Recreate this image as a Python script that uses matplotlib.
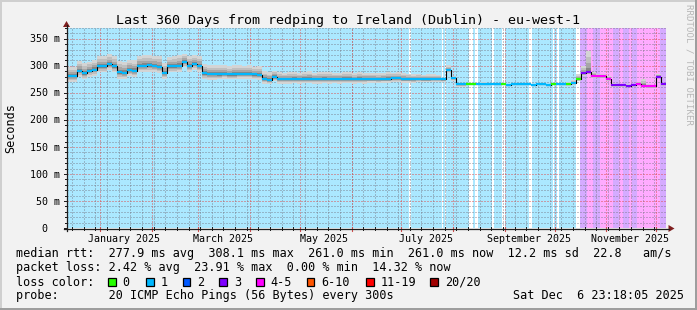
import matplotlib
matplotlib.use("Agg")
import matplotlib.pyplot as plt
from matplotlib.patches import Rectangle, Polygon
from matplotlib.lines import Line2D
from datetime import datetime, timedelta
import numpy as np

W, H, DPI = 697, 310, 100
MONO = "DejaVu Sans Mono"

# ---------------- data ----------------
START = datetime(2024, 12, 11, 23, 18, 5)
SPAN_DAYS = 360
BIN_DAYS = 3
Y_MAX = 370

TITLE = "Last 360 Days from redping to Ireland (Dublin) - eu-west-1"

# median rtt per 3-day bin (ms)
median_ms = [
    281, 281, 291, 286, 291, 293, 299, 299, 303, 299,
    288, 287, 293, 291, 300, 300, 301, 300, 298, 287,
    299, 299, 300, 308, 300, 304, 300, 286, 285, 285,
    284, 285, 284, 284, 285, 285, 285, 284, 283, 276,
    274, 280, 275, 275, 275, 276, 275, 276, 276, 275,
    275, 276, 275, 276, 275, 276, 276, 275, 276, 275,
    276, 276, 275, 276, 276, 277, 277, 276, 276, 275,
    276, 275, 275, 276, 276, 275, 292, 277, 266, 266,
    267, 266, 266, 267, 266, 267, 266, 266, 265, 266,
    267, 266, 266, 265, 267, 266, 265, 266, 266, 266,
    267, 269, 276, 286, 288, 282, 281, 281, 276, 265,
    264, 264, 263, 264, 267, 263, 262, 262, 280, 266,
]

# loss colour class per bin (index into loss_colors)
loss_cat = [
    1, 1, 1, 1, 1, 1, 1, 1, 1, 1,
    1, 1, 1, 1, 1, 1, 1, 1, 1, 1,
    1, 1, 1, 1, 1, 1, 1, 1, 1, 1,
    1, 1, 1, 1, 1, 1, 1, 1, 1, 1,
    1, 1, 1, 1, 1, 1, 1, 1, 1, 1,
    1, 1, 1, 1, 1, 1, 1, 1, 1, 1,
    1, 1, 1, 1, 1, 1, 1, 1, 1, 1,
    1, 1, 1, 1, 1, 1, 1, 1, 1, 1,
    0, 0, 1, 1, 1, 1, 1, 0, 1, 1,
    1, 1, 1, 1, 1, 1, 1, 0, 1, 1,
    0, 1, 0, 3, 3, 4, 4, 4, 4, 3,
    3, 3, 3, 3, 4, 4, 4, 4, 3, 3,
]

# smoke extent above the median per bin (ms)
smoke_up_ms = [
    16, 17, 18, 19, 17, 18, 19, 20, 18, 19,
    21, 20, 17, 19, 18, 20, 19, 18, 20, 19,
    18, 19, 20, 14, 18, 16, 19, 18, 17, 16,
    17, 16, 15, 17, 16, 15, 17, 14, 16, 14,
    14, 11, 13, 12, 14, 13, 12, 13, 14, 12,
    13, 12, 13, 11, 12, 13, 12, 11, 13, 12,
    11, 10, 11, 10, 12, 10, 11, 10, 9, 9,
    9, 8, 9, 8, 7, 3, 9, 4, 2, 2,
    2, 2, 2, 3, 2, 2, 2, 2, 2, 2,
    2, 2, 3, 2, 2, 2, 2, 2, 2, 2,
    3, 4, 8, 14, 40, 6, 4, 4, 6, 3,
    3, 3, 3, 3, 4, 12, 4, 3, 5, 3,
]
# smoke extent below the median per 30-day chunk (ms)
smoke_down_ms = [11, 12, 11, 9, 8, 8, 7, 5, 1, 1, 4, 3]

# loss background segments: end day and kind (contiguous from day 0)
bg_end_day = [205.5, 206.7, 225.4, 226.0, 227.2, 227.8, 241.6, 244.0, 245.2, 247.0,
              255.4, 256.6, 261.4, 263.2, 277.6, 279.5, 292.1, 292.7, 294.5, 295.7,
              305.9, 308.3, 312.5, 316.1, 320.3, 328.1, 332.0, 334.0, 338.0, 339.5,
              342.5, 356.4, 360.0]
bg_kind = ["blue", "none", "blue", "none", "blue", "none", "blue", "none", "blue", "none",
           "blue", "none", "blue", "none", "blue", "none", "blue", "none", "blue", "none",
           "blue", "none", "lav", "pink", "lav", "pink", "lav", "pink", "lav", "pink",
           "lav", "pink", "lav"]

loss_labels = ["0", "1", "2", "3", "4-5", "6-10", "11-19", "20/20"]
loss_colors = ["#26ff00", "#00b8ff", "#0059ff", "#7e00ff", "#ff00ff", "#ff5500", "#ff0000", "#a10000"]
bg_colors = {"blue": "#abe8ff", "pink": "#ffabff", "lav": "#d5abff", "none": "#ffffff"}

month_label_months = [1, 3, 5, 7, 9, 11]
y_label_values = [0, 50, 100, 150, 200, 250, 300, 350]

legend_rows = [
    [(16, "median rtt:  277.9 ms avg  308.1 ms max  261.0 ms min  261.0 ms now  12.2 ms sd  22.8   am/s")],
    [(16, "packet loss: 2.42 % avg  23.91 % max  0.00 % min  14.32 % now")],
    [(16, "loss color:")],
    [(16, "probe:       20 ICMP Echo Pings (56 Bytes) every 300s"),
     (513.3, "Sat Dec  6 23:18:05 2025")],
]
legend_baselines = [257.5, 271.3, 285.5, 299.3]
loss_box_x = [108, 146, 182.7, 219.3, 256, 306.7, 366, 430]

# ---------------- geometry ----------------
PL, PR, PT, PB = 67, 666, 28, 228


def fx(x):
    return x / W


def fy(y):
    return 1 - y / H


def px_x(d):
    return PL + d * (PR - PL) / SPAN_DAYS


def px_y(v):
    return PB - v * (PB - PT) / Y_MAX


def day_of(dt):
    return (dt - START).total_seconds() / 86400.0


fig = plt.figure(figsize=(W / DPI, H / DPI), dpi=DPI)
fig.patch.set_facecolor("#f2f2f2")


def fline(x0, y0, x1, y1, **kw):
    fig.add_artist(Line2D([fx(x0), fx(x1)], [fy(y0), fy(y1)], transform=fig.transFigure, **kw))


ax = fig.add_axes([fx(PL), fy(PB), (PR - PL) / W, (PB - PT) / H])
ax.set_xlim(0, SPAN_DAYS)
ax.set_ylim(0, Y_MAX)
ax.set_axis_off()

# loss background
s = 0.0
for e, k in zip(bg_end_day, bg_kind):
    ax.axvspan(s, e, color=bg_colors[k], lw=0, zorder=0.5)
    s = e

# grid
GRID = (0.45, 0.45, 0.5, 0.42)
MGRID = (0.87, 0.31, 0.31, 0.5)
dash = (0, (1, 1))
gkw = dict(lw=1.0, ls=dash, antialiased=False, snap=True)
for v in range(10, Y_MAX + 1, 10):
    ax.axhline(v, color=MGRID if v % 50 == 0 else GRID, zorder=1, **gkw)

month_days = []
m = datetime(2025, 1, 1)
while day_of(m) < SPAN_DAYS:
    month_days.append(day_of(m))
    m = datetime(m.year + (m.month // 12), m.month % 12 + 1, 1)
week_days = []
w = datetime(2024, 12, 15)
while day_of(w) < SPAN_DAYS:
    if day_of(w) > 0:
        week_days.append(day_of(w))
    w += timedelta(days=7)
for d in week_days:
    ax.axvline(d, color=GRID, zorder=1, **gkw)
for d in month_days:
    ax.axvline(d, color=MGRID, zorder=1.1, **gkw)

# smoke
med = np.array(median_ms, float)
up = np.array(smoke_up_ms, float)
dn = np.array([smoke_down_ms[i // 10] for i in range(len(med))], float)
edges = np.arange(0, len(med) + 1) * BIN_DAYS
layers = [(1.0, "#d4d4d4"), (0.7, "#bfbfbf"), (0.45, "#a6a6a6"), (0.22, "#868686")]
for f, c in layers:
    lo = med - dn * f
    hi = med + up * f
    ax.fill_between(edges, np.append(lo, lo[-1]), np.append(hi, hi[-1]),
                    step="post", color=c, lw=0, zorder=2)

# median line
ax.step(edges, np.append(med, med[-1]), where="post", color="black", lw=0.8, zorder=3)
ax.hlines(med, edges[:-1], edges[1:], colors=[loss_colors[c] for c in loss_cat],
          lw=1.6, zorder=4)

# axes, ticks, arrows
AXIS = "#1f1f1f"
ARROW = "#801f1f"
for v in range(0, Y_MAX + 1, 10):
    y = px_y(v)
    fline(64 if v % 50 == 0 else 65, y, 67, y, color=AXIS, lw=0.72)
for d in week_days:
    x = px_x(d)
    fline(x, 227, x, 230, color=AXIS, lw=0.72)
for d in month_days:
    x = px_x(d)
    fline(x, 227, x, 231, color="#d05050", lw=0.8)
fline(64, 228.5, 669, 228.5, color=AXIS, lw=0.9)
fline(66.5, 231, 66.5, 25, color=AXIS, lw=0.9)
fig.add_artist(Polygon([[fx(668.5), fy(225)], [fx(674.5), fy(228.5)], [fx(668.5), fy(232)]],
                       closed=True, transform=fig.transFigure, color=ARROW, lw=0))
fig.add_artist(Polygon([[fx(63), fy(27)], [fx(66.5), fy(21)], [fx(70), fy(27)]],
                       closed=True, transform=fig.transFigure, color=ARROW, lw=0))

# tick labels
for v in y_label_values:
    yb = px_y(v) + 3.6
    if v:
        fig.text(fx(60), fy(yb), f"{v} m", ha="right", va="baseline", fontsize=7.2, family=MONO)
    else:
        fig.text(fx(47.5), fy(yb), "0", ha="right", va="baseline", fontsize=7.2, family=MONO)
for mo in month_label_months:
    dt = datetime(2025, mo, 15, 12)
    fig.text(fx(px_x(day_of(dt))), fy(241.5), dt.strftime("%B %Y"), ha="center",
             va="baseline", fontsize=7.2, family=MONO)

# title, y label, watermark
fig.text(fx(348.4), fy(24), TITLE, ha="center", va="baseline", fontsize=9.6, family=MONO)
fig.text(fx(10.5), fy(128), "Seconds", rotation=90, ha="center", va="center",
         fontsize=8.5, family=MONO)
fig.text(fx(688.5), fy(4), "RRDTOOL / TOBI OETIKER", rotation=270, ha="center", va="top",
         fontsize=6.6, family=MONO, color="#b8b8b8")

# legend
for row, yb in zip(legend_rows, legend_baselines):
    for x, t in row:
        fig.text(fx(x), fy(yb), t, ha="left", va="baseline", fontsize=8.5, family=MONO)
for bx, lab, col in zip(loss_box_x, loss_labels, loss_colors):
    fig.add_artist(Rectangle((fx(bx), fy(285.5)), 7.5 / W, 7.5 / H, transform=fig.transFigure,
                             facecolor=col, edgecolor="black", lw=0.9))
    fig.text(fx(bx + 14.7), fy(285.5), lab, ha="left", va="baseline", fontsize=8.5, family=MONO)

# frame
fline(0, 0.8, W, 0.8, color="#cfcfcf", lw=1.44)
fline(0.8, 0, 0.8, H, color="#cfcfcf", lw=1.44)
fline(0, H - 1, W, H - 1, color="#9e9e9e", lw=1.44)
fline(W - 1, 0, W - 1, H, color="#9e9e9e", lw=1.44)

fig.savefig("out.png", dpi=DPI, facecolor=fig.get_facecolor())
